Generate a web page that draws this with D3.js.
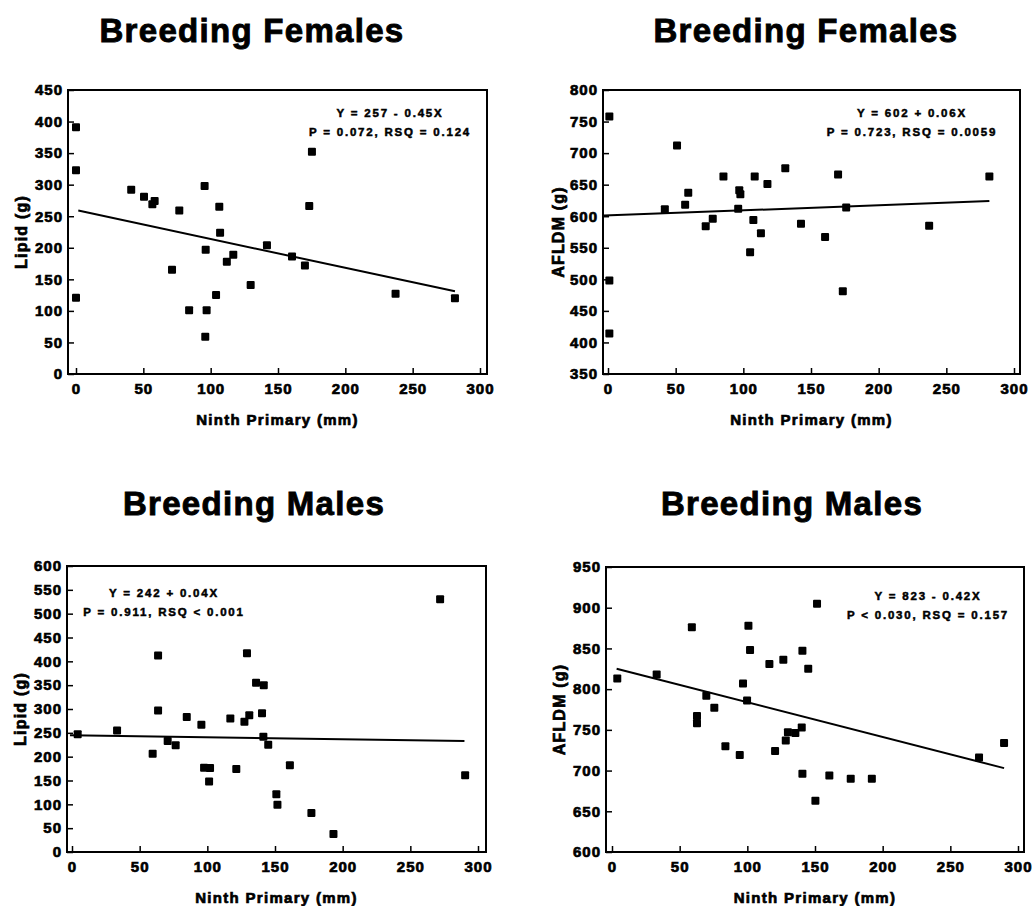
<!DOCTYPE html>
<html>
<head>
<meta charset="utf-8">
<script src="https://cdn.jsdelivr.net/npm/d3@7.9.0/dist/d3.min.js"></script>
<style>
  body { margin: 0; background: #fff; }
  svg text { font-family: "Liberation Sans", Arial, sans-serif; font-weight: bold; fill: #000; stroke: #000; }
</style>
</head>
<body>
<div id="chart"></div>
<script>
// data
const femLipidX = [0, 0, 0, 41, 50.5, 56.7, 58.4, 76.7, 71.3, 84, 95.5, 96.3, 97, 96, 106.4, 107, 104, 112, 116.8, 129.7, 141.8, 160.4, 170, 173.2, 175.2, 237.3, 281.4];
const femLipidY = [391, 323, 121, 292, 281, 269, 274, 259, 165, 101, 298, 197, 101, 59, 265, 224, 125, 178, 189, 141, 204, 186, 172, 266, 352, 127, 120];

const femAfldmX = [1, 1, 1, 42, 51, 57, 59.3, 72.2, 77.4, 85.3, 96.2, 97, 97.8, 107.4, 108.4, 105, 113, 117.8, 131, 142.6, 160.4, 170, 176, 173.5, 237.3, 281.8];
const femAfldmY = [758, 498, 414, 611, 712, 618, 637, 584, 596, 663, 612, 641, 635, 594, 663, 543, 573, 651, 676, 588, 567, 666, 614, 481, 585, 663];

const maleLipidX = [4.2, 33.3, 59.6, 63.6, 63.6, 70.7, 76.6, 84.8, 95.6, 97.6, 102, 101.3, 117, 121.4, 127.4, 129.3, 131, 136, 141.7, 140.4, 141.4, 145, 161, 151, 151.8, 176.9, 193.2, 272, 290.5];
const maleLipidY = [247, 255, 206, 412, 297, 233, 224, 283, 267, 177, 176, 148, 280, 174, 273, 417, 287, 355, 350, 291, 242, 225, 182, 121, 99, 82, 38, 530, 161];

const maleAfldmX = [3.9, 33, 59, 62.8, 62.8, 69.7, 75.6, 83.8, 94.4, 96.8, 99.8, 100.8, 102, 116.3, 120.5, 126.6, 128.4, 130, 135.5, 140.2, 140.7, 140.7, 145, 150.3, 151.5, 160.6, 176.4, 192, 271.2, 289.7];
const maleAfldmY = [813, 818, 876, 767, 758, 792, 777, 730, 719, 807, 786, 878, 848, 831, 724, 836, 737, 747, 746, 753, 847, 696, 825, 663, 905, 694, 690, 690, 716, 734];

// fitted lines as drawn (end points)
const fitLineX = [[1.7, 281.4], [-3, 281.8], [-1.5, 290], [3.4, 289.7]];
const fitLineY = [[259, 131], [601, 624], [245, 233], [825, 703]];

const titles = ["Breeding Females", "Breeding Females", "Breeding Males", "Breeding Males"];
const yLabels = ["Lipid (g)", "AFLDM (g)", "Lipid (g)", "AFLDM (g)"];
const xLabel = "Ninth Primary (mm)";
const statLines = [
  ["Y = 257 - 0.45X", "P = 0.072, RSQ = 0.124"],
  ["Y = 602 + 0.06X", "P = 0.723, RSQ = 0.0059"],
  ["Y = 242 + 0.04X", "P = 0.911, RSQ < 0.001"],
  ["Y = 823 - 0.42X", "P < 0.030, RSQ = 0.157"]
];
const xTicks = [0, 50, 100, 150, 200, 250, 300];
const yDomains = [[0, 450], [350, 800], [0, 600], [600, 950]];
const yStep = 50;

// layout per panel
const width = 1033, height = 906;
const panels = [
  { left: 68, right: 487, top: 90, bottom: 374, x0: 76, x300: 480, titleX: 252, titleY: 42, yLabX: 27, statX: 390, statY: 117 },
  { left: 603, right: 1020, top: 90, bottom: 374, x0: 608, x300: 1014, titleX: 806, titleY: 42, yLabX: 564, statX: 912, statY: 117 },
  { left: 67, right: 486, top: 566, bottom: 852, x0: 72, x300: 478, titleX: 254, titleY: 515, yLabX: 26, statX: 164, statY: 597 },
  { left: 606, right: 1024, top: 567, bottom: 852, x0: 612, x300: 1018, titleX: 792, titleY: 515, yLabX: 565, statX: 928, statY: 600 }
];
const seriesX = [femLipidX, femAfldmX, maleLipidX, maleAfldmX];
const seriesY = [femLipidY, femAfldmY, maleLipidY, maleAfldmY];

const svg = d3
  .select("#chart")
  .append("svg")
  .attr("width", width)
  .attr("height", height);

panels.forEach((p, i) => {
  const g = svg.append("g");

  const x = d3.scaleLinear().domain([0, 300]).range([p.x0, p.x300]);
  const y = d3.scaleLinear().domain(yDomains[i]).range([p.bottom, p.top]);
  const yTicks = d3.range(yDomains[i][0], yDomains[i][1] + 1, yStep);

  // title
  g.append("text")
    .attr("x", p.titleX)
    .attr("y", p.titleY)
    .attr("text-anchor", "middle")
    .style("font-size", "33px")
    .style("letter-spacing", "1.3px")
    .style("stroke-width", "0.9px")
    .text(titles[i]);

  // axes with inward ticks
  const yAxis = g
    .append("g")
    .attr("transform", `translate(${p.left},0)`)
    .call(d3.axisLeft(y).tickValues(yTicks).tickSize(-6).tickSizeOuter(0).tickPadding(5).tickFormat(d3.format("d")));

  const xAxis = g
    .append("g")
    .attr("transform", `translate(0,${p.bottom})`)
    .call(d3.axisBottom(x).tickValues(xTicks).tickSize(-6).tickSizeOuter(0).tickPadding(9).tickFormat(d3.format("d")));

  [yAxis, xAxis].forEach((a) => {
    a.select(".domain").remove();
    a.selectAll("line").attr("stroke", "#000").attr("stroke-width", 1.5);
    a.selectAll("text")
      .style("font-size", "15px")
      .style("letter-spacing", "1px")
      .style("stroke-width", "0.7px")
      .attr("fill", "#000");
  });

  // frame
  g.append("rect")
    .attr("x", p.left)
    .attr("y", p.top)
    .attr("width", p.right - p.left)
    .attr("height", p.bottom - p.top)
    .attr("fill", "none")
    .attr("stroke", "#000")
    .attr("stroke-width", 2);

  // axis titles
  g.append("text")
    .attr("x", (p.left + p.right) / 2)
    .attr("y", p.bottom + 51)
    .attr("text-anchor", "middle")
    .style("font-size", "15px")
    .style("letter-spacing", "1.3px")
    .style("stroke-width", "0.7px")
    .text(xLabel);

  g.append("text")
    .attr("transform", `translate(${p.yLabX},${(p.top + p.bottom) / 2}) rotate(-90)`)
    .attr("text-anchor", "middle")
    .style("font-size", "16px")
    .style("letter-spacing", "1.2px")
    .style("stroke-width", "0.7px")
    .text(yLabels[i]);

  // fitted line
  const line = d3
    .line()
    .x((d) => x(d[0]))
    .y((d) => y(d[1]));
  g.append("path")
    .datum(fitLineX[i].map((v, k) => [v, fitLineY[i][k]]))
    .attr("d", line)
    .attr("fill", "none")
    .attr("stroke", "#000")
    .attr("stroke-width", 2);

  // points
  const pts = seriesX[i].map((v, j) => [v, seriesY[i][j]]);
  const s = 8;
  g.selectAll("rect.pt")
    .data(pts)
    .join("rect")
    .attr("class", "pt")
    .attr("x", (d) => x(d[0]) - s / 2)
    .attr("y", (d) => y(d[1]) - s / 2)
    .attr("width", s)
    .attr("height", s)
    .attr("rx", 1)
    .attr("fill", "#000");

  // stats
  g.selectAll("text.stat")
    .data(statLines[i])
    .join("text")
    .attr("class", "stat")
    .attr("x", p.statX)
    .attr("y", (d, k) => p.statY + k * 19)
    .attr("text-anchor", "middle")
    .style("font-size", "11.5px")
    .style("letter-spacing", "1.8px")
    .style("stroke-width", "0.5px")
    .text((d) => d);
});
</script>
</body>
</html>
